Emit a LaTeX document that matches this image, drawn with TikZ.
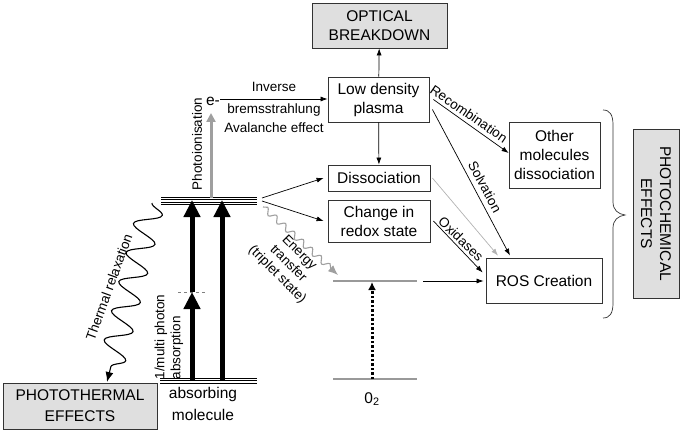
\documentclass[tikz,border=0pt]{standalone}
\usepackage{fontspec}
\setmainfont{Liberation Sans}
\usetikzlibrary{arrows.meta,decorations.pathmorphing,calc}
\begin{document}
\begin{tikzpicture}[x=1pt,y=-1pt,
  box/.style={draw=black!80, line width=0.8pt, inner sep=0pt, align=center, font=\fontsize{15.5}{19}\selectfont},
  gbox/.style={box, fill=gray!25},
  lbl/.style={font=\fontsize{13.5}{16}\selectfont, inner sep=1pt, align=center},
  arr/.style={line width=0.7pt, -{Latex[length=7pt,width=5pt]}},
  bigarr/.style={line width=5pt, -{Triangle[length=17pt,width=16pt]}},
  level/.style={line width=0.6pt, black},
  olevel/.style={line width=1.5pt, gray!80},
]
\useasboundingbox (0,0) rectangle (682,433);

% boxes
\node[gbox, minimum width=135pt, minimum height=45pt] (ob) at (379.5,25.5) {OPTICAL\\BREAKDOWN};
\node[box, minimum width=101pt, minimum height=45pt] (ldp) at (378.5,99.5) {Low density\\plasma};
\node[box, minimum width=102pt, minimum height=26pt] (dis) at (379,178) {Dissociation};
\node[box, minimum width=102pt, minimum height=42pt] (cr) at (379,221) {Change in\\redox state};
\node[box, minimum width=91pt, minimum height=66pt] (om) at (554.5,155) {Other\\molecules\\dissociation};
\node[box, minimum width=116pt, minimum height=45pt] (ros) at (544,280.5) {ROS Creation};
\node[gbox, rotate=-90, minimum width=169pt, minimum height=46pt] (pc) at (656,213.5) {PHOTOCHEMICAL\\EFFECTS};
\node[gbox, minimum width=154pt, minimum height=46pt, font=\fontsize{15.5}{21}\selectfont] (pt) at (80,406) {PHOTOTHERMAL\\EFFECTS};

% absorbing molecule levels
\foreach \y in {197,199.5,202,204.5} \draw[level] (161,\y) -- (257,\y);
\foreach \y in {378.5,380.7,383} \draw[level] (160,\y) -- (257,\y);
\draw[gray, dashed, line width=0.6pt] (178,292) -- (207,292);
% O2 levels
\draw[olevel] (333,281) -- (417,281);
\draw[olevel] (333,379) -- (417,379);

% coordinates
\coordinate (a1b) at (192,381);
\coordinate (a1m) at (192,292);
\coordinate (a1t) at (192,200);
\coordinate (a2b) at (222,381);
\coordinate (a2t) at (222,200);
\coordinate (pib) at (211,198);
\coordinate (pit) at (211,113);
\coordinate (ur1) at (262,198);
\coordinate (ur2) at (262,201);
\coordinate (et0) at (263,207);
\coordinate (et1) at (338,275);
\coordinate (th0) at (152,203);
\coordinate (th1) at (107,382);
\coordinate (o2b) at (372,379);
\coordinate (o2t) at (372,282);
\coordinate (o2r) at (423,281);

% texts
\node[box, draw=none] (em) at (213,101) {e-};
\node[lbl] (inv) at (274,87) {Inverse};
\node[lbl] (brem) at (274,110) {bremsstrahlung};
\node[lbl] (aval) at (274,128) {Avalanche effect};
\node[lbl, rotate=90] (photo) at (197,144) {Photoionisation};
\node[lbl, rotate=90, align=left] (multi) at (169,337) {1/multi photon\\absorption};
\node[box, draw=none, font=\fontsize{15.5}{22}\selectfont] (absm) at (203,404) {absorbing\\molecule};
\node[box, draw=none] (o2) at (372,399) {0\textsubscript{2}};
\node[lbl, rotate=70] (thl) at (109,287) {Thermal relaxation};
\node[lbl, rotate=-45, font=\fontsize{13.5}{15.5}\selectfont] (etl) at (288,264) {Energy\\transfer\\(triplet state)};
\node[lbl, rotate=-34.5] (recl) at (469,114) {Recombination};
\node[lbl, rotate=-62] (solv) at (485,187) {Solvation};
\node[lbl, rotate=-44] (oxl) at (461,239) {Oxidases};

% brace
\draw[line width=0.7pt, black!80] (603,110) .. controls (610,110) and (613,115) .. (613,125) -- (613,202)
  .. controls (613,210) and (618,214) .. (625,215)
  .. controls (618,216) and (613,220) .. (613,228) -- (613,303)
  .. controls (613,313) and (610,318) .. (603,318);

% connectors
\draw[arr] (ldp) -- (ob);
\draw[arr] (ldp) -- (dis);
\draw[arr] (em.east |- 0,99) -- (ldp.west |- 0,99);
\draw[arr] (ur1) -- ([xshift=-4pt]dis.west);
\draw[arr] (ur2) -- ([xshift=-4pt]cr.west);
\draw[arr] ([xshift=4pt]ldp.east) -- ([yshift=2pt]om.west);
\draw[arr] ([xshift=3pt,yshift=-10pt]ldp.east) -- ([xshift=-34pt,yshift=2pt]ros.north);
\draw[arr, draw=gray!60] ([xshift=2pt]dis.east) -- ([xshift=-46pt,yshift=2pt]ros.north);
\draw[arr] ([xshift=3pt]cr.east) -- ([xshift=-3pt,yshift=8pt]ros.west);
\draw[arr] (o2r) -- ([xshift=-2pt]ros.west |- o2r);

\draw[bigarr] (a1b) -- (a1m);
\draw[bigarr] (a1m) -- (a1t);
\draw[bigarr] (a2b) -- (a2t);
\draw[line width=3pt, gray!75, -{Triangle[length=9pt,width=9pt]}] (pib) -- (pit);
\draw[line width=3pt, dash pattern=on 2.5pt off 2pt, -{Latex[length=8pt,width=8pt]}] (o2b) -- (o2t);

\draw[line width=1.1pt, gray!75, -{Latex[length=10pt,width=8pt]}, decorate,
  decoration={snake, segment length=12pt, amplitude=3pt, post length=9pt}] (et0) -- (et1);
\draw[line width=1.1pt, -{Latex[length=10pt,width=8pt]}, decorate,
  decoration={snake, segment length=30pt, amplitude=13pt, post length=10pt}] (th0) -- (th1);
\end{tikzpicture}
\end{document}
